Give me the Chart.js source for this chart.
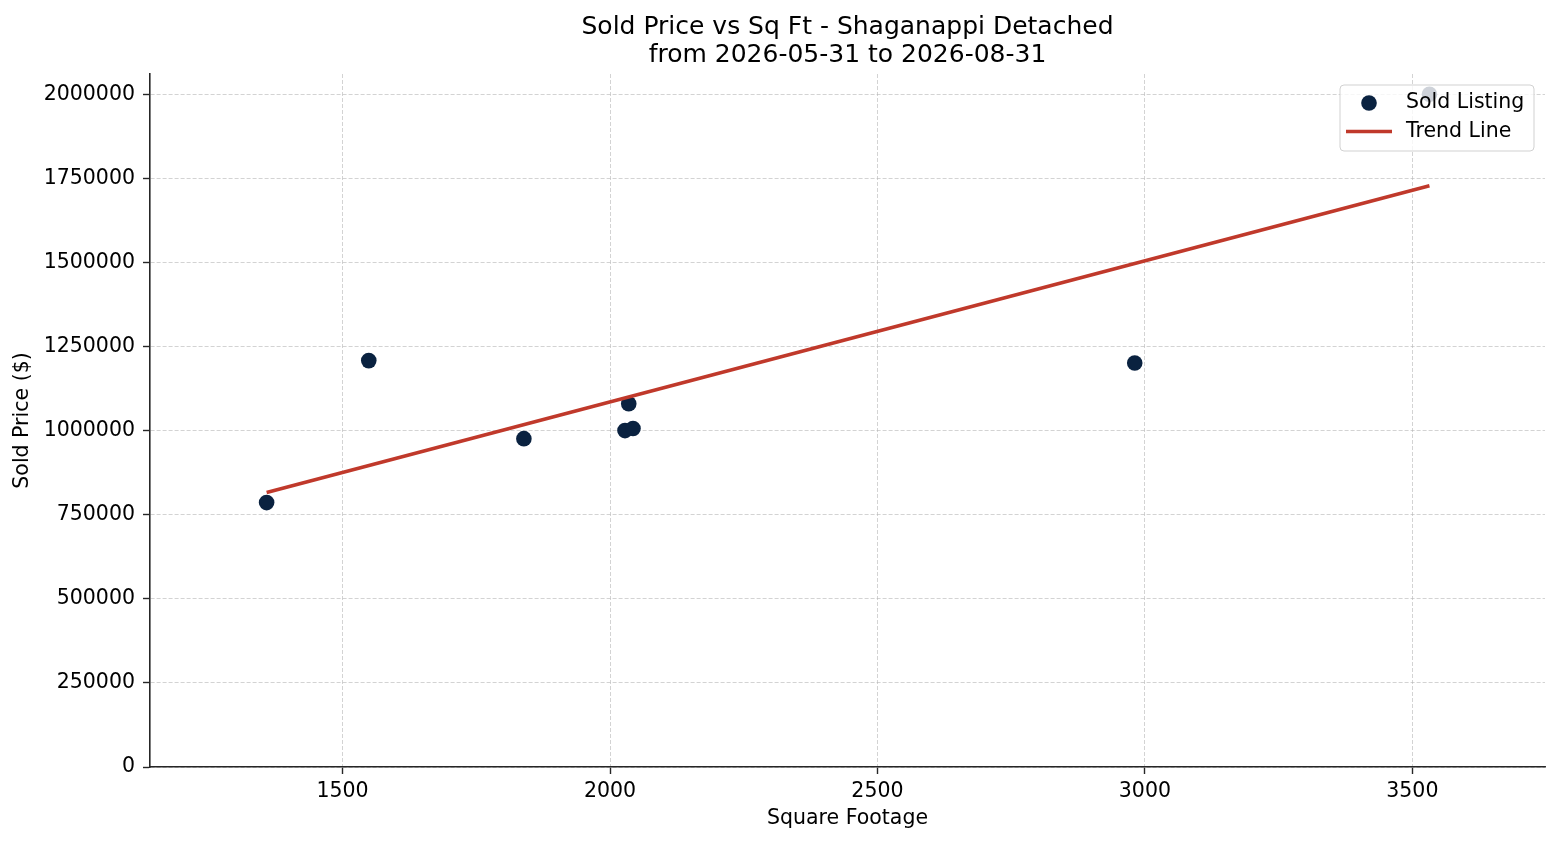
<!DOCTYPE html>
<html>
<head>
<meta charset="utf-8">
<script src="https://cdn.jsdelivr.net/npm/chart.js@4"></script>
<style>
  html, body { margin: 0; padding: 0; background: #ffffff; }
  #wrap { width: 1560px; height: 845px; position: relative; }
</style>
</head>
<body>
<div id="wrap"><canvas id="c"></canvas></div>
<script>
// ---- data ----
const titleLines = ["Sold Price vs Sq Ft - Shaganappi Detached", "from 2026-05-31 to 2026-08-31"];
const xLabel = "Square Footage";
const yLabel = "Sold Price ($)";
const sqft  = [1358, 1549, 1839, 2028, 2035, 2043, 2981, 3532];
const price = [786000, 1208000, 976000, 1000000, 1080000, 1006000, 1201000, 2000000];
const trendSqft  = [1358, 3532];
const trendPrice = [816000, 1728000];
const xTicks = [1500, 2000, 2500, 3000, 3500];
const yTicks = [0, 250000, 500000, 750000, 1000000, 1250000, 1500000, 1750000, 2000000];
const xRange = [1140, 3748];
const yRange = [0, 2060000];
const seriesNames = ["Sold Listing", "Trend Line"];

const FONT = "'DejaVu Sans', 'Liberation Sans', sans-serif";
const DOT = '#0a2240';
const RED = '#c0392b';
const AXIS = '#262626';

const scatterPts = sqft.map((x, i) => ({ x: x, y: price[i] }));
const trendPts = trendSqft.map((x, i) => ({ x: x, y: trendPrice[i] }));

const insideLegend = {
  id: 'insideLegend',
  afterDatasetsDraw(chart) {
    const ctx = chart.ctx;
    const a = chart.chartArea;
    const w = 194, h = 66;
    const x0 = a.right - 11 - w, y0 = a.top + 11;
    ctx.save();
    ctx.beginPath();
    const r = 4;
    ctx.moveTo(x0 + r, y0);
    ctx.lineTo(x0 + w - r, y0);
    ctx.arcTo(x0 + w, y0, x0 + w, y0 + r, r);
    ctx.lineTo(x0 + w, y0 + h - r);
    ctx.arcTo(x0 + w, y0 + h, x0 + w - r, y0 + h, r);
    ctx.lineTo(x0 + r, y0 + h);
    ctx.arcTo(x0, y0 + h, x0, y0 + h - r, r);
    ctx.lineTo(x0, y0 + r);
    ctx.arcTo(x0, y0, x0 + r, y0, r);
    ctx.closePath();
    ctx.fillStyle = 'rgba(255,255,255,0.8)';
    ctx.fill();
    ctx.strokeStyle = 'rgba(204,204,204,0.9)';
    ctx.lineWidth = 1;
    ctx.stroke();
    const ds = chart.data.datasets;
    ctx.beginPath();
    ctx.arc(x0 + 29, y0 + 18, 7.8, 0, Math.PI * 2);
    ctx.fillStyle = ds[0].backgroundColor;
    ctx.fill();
    ctx.beginPath();
    ctx.moveTo(x0 + 6, y0 + 46.5);
    ctx.lineTo(x0 + 52, y0 + 46.5);
    ctx.strokeStyle = ds[1].borderColor;
    ctx.lineWidth = 3.5;
    ctx.stroke();
    ctx.fillStyle = '#000000';
    ctx.font = '20.5px ' + FONT;
    ctx.textAlign = 'left';
    ctx.textBaseline = 'middle';
    ctx.fillText(ds[0].label, x0 + 66, y0 + 17.5);
    ctx.fillText(ds[1].label, x0 + 66, y0 + 46.5);
    ctx.restore();
  }
};

new Chart(document.getElementById('c'), {
  type: 'scatter',
  data: {
    datasets: [
      {
        label: seriesNames[0],
        data: scatterPts,
        backgroundColor: DOT,
        borderWidth: 0,
        pointRadius: 7.8,
        pointHoverRadius: 7.8,
        order: 1
      },
      {
        label: seriesNames[1],
        data: trendPts,
        showLine: true,
        borderColor: RED,
        backgroundColor: RED,
        borderWidth: 3.5,
        pointRadius: 0,
        pointHoverRadius: 0,
        fill: false,
        order: 0
      }
    ]
  },
  options: {
    responsive: true,
    maintainAspectRatio: false,
    devicePixelRatio: 1,
    animation: false,
    layout: { padding: { left: 0, right: 15, top: 0, bottom: 0 } },
    plugins: {
      legend: { display: false },
      tooltip: { enabled: false },
      title: {
        display: true,
        fullSize: false,
        text: titleLines,
        color: '#000000',
        font: { family: FONT, size: 25, weight: 'normal', lineHeight: 1.12 },
        padding: { top: 13, bottom: 5 }
      }
    },
    scales: {
      x: {
        type: 'linear',
        position: 'bottom',
        min: xRange[0],
        max: xRange[1],
        afterBuildTicks: s => { s.ticks = xTicks.map(v => ({ value: v })); },
        afterFit: s => { s.height = 78; },
        ticks: {
          color: '#000000',
          font: { family: FONT, size: 20.5 },
          padding: 5,
          maxRotation: 0,
          callback: v => String(v)
        },
        grid: {
          color: 'rgba(180,180,180,0.65)',
          lineWidth: 0.9,
          drawTicks: true,
          tickLength: 7,
          tickColor: AXIS,
          tickWidth: 1.4
        },
        border: { display: true, color: AXIS, width: 1.6, dash: [4, 2] },
        title: {
          display: true,
          text: xLabel,
          color: '#000000',
          font: { family: FONT, size: 20.5, lineHeight: 1.2 },
          padding: { top: 14, bottom: 14 }
        }
      },
      y: {
        type: 'linear',
        position: 'left',
        min: yRange[0],
        max: yRange[1],
        afterBuildTicks: s => { s.ticks = yTicks.map(v => ({ value: v })); },
        afterFit: s => { s.width = 150; },
        ticks: {
          color: '#000000',
          font: { family: FONT, size: 20.5 },
          padding: 8,
          callback: v => String(v)
        },
        grid: {
          color: 'rgba(180,180,180,0.65)',
          lineWidth: 0.9,
          drawTicks: true,
          tickLength: 7,
          tickColor: AXIS,
          tickWidth: 1.4
        },
        border: { display: true, color: AXIS, width: 1.6, dash: [4, 2] },
        title: {
          display: true,
          text: yLabel,
          color: '#000000',
          font: { family: FONT, size: 20.5, lineHeight: 1.2 },
          padding: { top: 10, bottom: 10 }
        }
      }
    }
  },
  plugins: [insideLegend]
});
</script>
</body>
</html>
